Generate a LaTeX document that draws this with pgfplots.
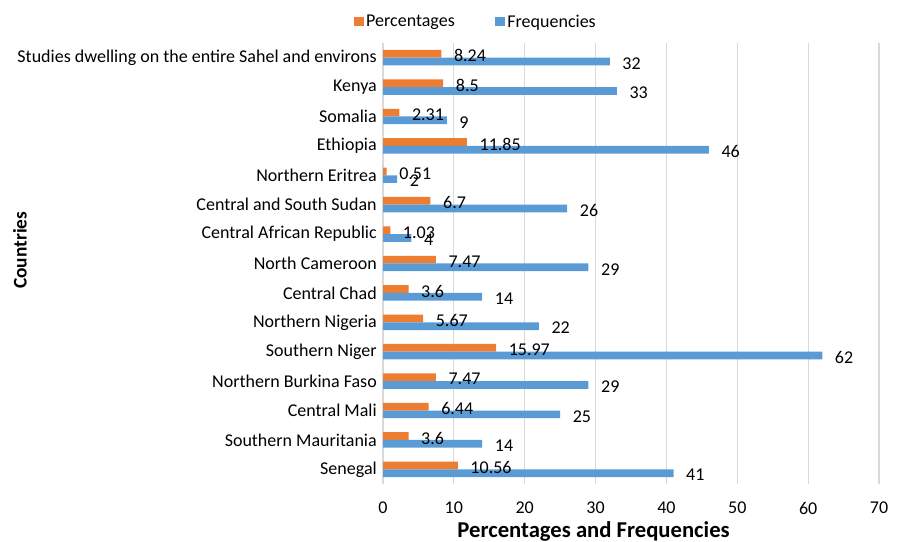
\documentclass[border=0pt]{standalone}
\usepackage{pgfplots}
\pgfplotsset{compat=1.18}
\usepackage{fontspec}
\setmainfont{Carlito}
\definecolor{pctorange}{HTML}{ED7D31}
\definecolor{freqblue}{HTML}{5B9BD5}
\definecolor{gridgray}{HTML}{D9D9D9}
\newcommand{\lblfont}{\fontsize{13.5}{16}\selectfont}
\begin{document}
\begin{tikzpicture}
\begin{axis}[
  scale only axis,
  width=372pt, height=330.75pt,
  xmin=0, xmax=70,
  ymin=-0.5, ymax=14.5,
  xtick={0,10,...,70},
  ytick={0,...,14},
  yticklabels={Senegal,Southern Mauritania,Central Mali,Northern Burkina Faso,Southern Niger,Northern Nigeria,Central Chad,North Cameroon,Central African Republic,Central and South Sudan,Northern Eritrea,Ethiopia,Somalia,Kenya,Studies dwelling on the entire Sahel and environs},
  major tick length=0pt,
  axis line style={draw=none},
  xmajorgrids,
  grid style={gridgray, line width=0.8pt},
  /pgf/number format/assume math mode=true,
  ticklabel style={font=\lblfont, text=black},
  yticklabel style={inner sep=0pt, xshift=-4.5pt},
  xticklabel style={inner sep=0pt, yshift=-13.5pt},
  xbar,
  bar width=0.262,
  point meta=explicit symbolic,
  nodes near coords,
  nodes near coords style={font=\lblfont, anchor=west, inner sep=0pt, xshift=9.3pt, yshift=-1.5pt, text=black},
  legend columns=2,
  legend style={draw=none, fill=none, font=\lblfont, at={(rel axis cs:0.1875,1.048)}, anchor=center,
    /tikz/every even column/.append style={column sep=28pt}},
  legend image code/.code={\fill[#1] (0pt,-3.4pt) rectangle (7.5pt,3.4pt);},
  clip=false,
]
% Percentages (upper bar of each pair)
\addplot[fill=pctorange, draw=none, bar shift=0.131] coordinates {
  (10.56,0) [10.56]
  (3.6,1) [3.6]
  (6.44,2) [6.44]
  (7.47,3) [7.47]
  (15.97,4) [15.97]
  (5.67,5) [5.67]
  (3.6,6) [3.6]
  (7.47,7) [7.47]
  (1.03,8) [1.03]
  (6.7,9) [6.7]
  (0.51,10) [0.51]
  (11.85,11) [11.85]
  (2.31,12) [2.31]
  (8.5,13) [8.5]
  (8.24,14) [8.24]
};
\addlegendentry{Percentages}
% Frequencies (lower bar of each pair)
\addplot[fill=freqblue, draw=none, bar shift=-0.131] coordinates {
  (41,0) [41]
  (14,1) [14]
  (25,2) [25]
  (29,3) [29]
  (62,4) [62]
  (22,5) [22]
  (14,6) [14]
  (29,7) [29]
  (4,8) [4]
  (26,9) [26]
  (2,10) [2]
  (46,11) [46]
  (9,12) [9]
  (33,13) [33]
  (32,14) [32]
};
\addlegendentry{Frequencies}
\node[font=\fontsize{17}{20}\selectfont\bfseries, anchor=base] at (rel axis cs:0.4246,-0.1224) {Percentages and Frequencies};
\node[font=\fontsize{14.5}{17}\selectfont\bfseries, rotate=90, anchor=center] at (rel axis cs:-0.732,0.53) {Countries};
\coordinate (bbsw) at (rel axis cs:-0.7722,-0.1315);
\coordinate (bbne) at (rel axis cs:1.0403,1.0975);
\end{axis}
\pgfresetboundingbox
\useasboundingbox (bbsw) rectangle (bbne);
\end{tikzpicture}
\end{document}
